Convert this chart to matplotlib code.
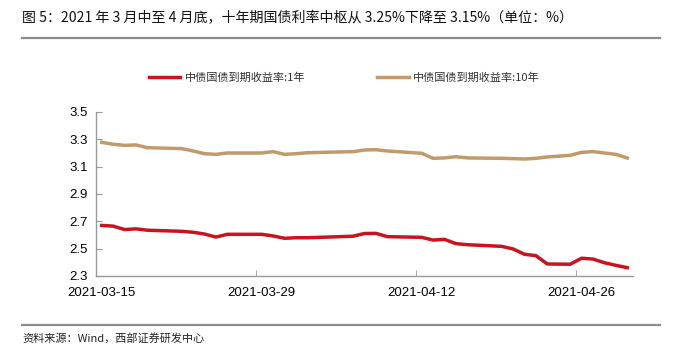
import matplotlib
matplotlib.use('Agg')
import matplotlib.pyplot as plt
import pandas as pd
from datetime import timedelta

plt.rcParams['font.family'] = ['Liberation Sans', 'Noto Sans CJK SC', 'DejaVu Sans']
cjk = ['Noto Sans CJK SC', 'DejaVu Sans']

# 交易日
dates = pd.to_datetime([
    '2021-03-15', '2021-03-16', '2021-03-17', '2021-03-18', '2021-03-19',
    '2021-03-22', '2021-03-23', '2021-03-24', '2021-03-25', '2021-03-26',
    '2021-03-29', '2021-03-30', '2021-03-31', '2021-04-01', '2021-04-02',
    '2021-04-06', '2021-04-07', '2021-04-08', '2021-04-09',
    '2021-04-12', '2021-04-13', '2021-04-14', '2021-04-15', '2021-04-16',
    '2021-04-19', '2021-04-20', '2021-04-21', '2021-04-22', '2021-04-23',
    '2021-04-25', '2021-04-26', '2021-04-27', '2021-04-28', '2021-04-29',
    '2021-04-30'])

y1 = [2.670, 2.665, 2.640, 2.645, 2.635,
      2.627, 2.620, 2.607, 2.585, 2.605,
      2.605, 2.593, 2.576, 2.580, 2.580,
      2.591, 2.611, 2.612, 2.588,
      2.583, 2.563, 2.568, 2.537, 2.529,
      2.517, 2.498, 2.459, 2.449, 2.388,
      2.386, 2.430, 2.424, 2.397, 2.378,
      2.361]

y10 = [3.278, 3.264, 3.256, 3.259, 3.239,
       3.232, 3.215, 3.195, 3.190, 3.200,
       3.200, 3.210, 3.190, 3.195, 3.202,
       3.210, 3.222, 3.224, 3.215,
       3.198, 3.161, 3.164, 3.173, 3.164,
       3.161, 3.159, 3.156, 3.161, 3.171,
       3.183, 3.205, 3.210, 3.200, 3.190,
       3.163]

tick_dates = pd.to_datetime(['2021-03-15', '2021-03-29', '2021-04-12', '2021-04-26'])
yticks = [2.3, 2.5, 2.7, 2.9, 3.1, 3.3, 3.5]

title = '图 5：2021 年 3 月中至 4 月底，十年期国债利率中枢从 3.25%下降至 3.15%（单位：%）'
source = '资料来源：Wind，西部证券研发中心'
labels = ['中债国债到期收益率:1年', '中债国债到期收益率:10年']
colors = ['#C8141E', '#C09A6B']

fig = plt.figure(figsize=(6.82, 3.6), dpi=100)

# 标题和分隔线
fig.text(22/682, 1-18/360, title, fontsize=10.1, family=cjk, va='center', ha='left', color='#111111')
fig.add_artist(plt.Line2D([22/682, 660/682], [1-38/360, 1-38/360], color='#8c8c8c', lw=1.6))
fig.add_artist(plt.Line2D([22/682, 660/682], [1-325/360, 1-325/360], color='#8c8c8c', lw=1.6))
fig.text(22/682, 1-338/360, source, fontsize=8, family=cjk, va='center', ha='left', color='#222222')

ax = fig.add_axes([96/682, 1-276/360, (633-96)/682, (276-112)/360])
ax.plot(dates, y1, color=colors[0], lw=2.5, label=labels[0], solid_joinstyle='round')
ax.plot(dates, y10, color=colors[1], lw=2.5, label=labels[1], solid_joinstyle='round')

half = timedelta(hours=12)
ax.set_xlim(dates[0] - half, dates[-1] + half)
ax.set_ylim(2.3, 3.5)
ax.set_yticks(yticks)
ax.set_yticklabels(['%.1f' % v for v in yticks])

# 标签居中在日期上，刻度线在日期边界
ax.set_xticks(tick_dates)
ax.set_xticklabels([d.strftime('%Y-%m-%d') for d in tick_dates])
ax.set_xticks([d - half for d in tick_dates], minor=True)
ax.tick_params(axis='x', which='major', length=0, pad=8, labelsize=9.5)
ax.tick_params(axis='x', which='minor', length=4, direction='in', color='#999999')
ax.tick_params(axis='y', length=4, direction='in', color='#999999', pad=6, labelsize=9.5)

for s in ['top', 'right']:
    ax.spines[s].set_visible(False)
for s in ['left', 'bottom']:
    ax.spines[s].set_color('#999999')
    ax.spines[s].set_linewidth(1.0)

leg = fig.legend(loc='center', bbox_to_anchor=(0.505, 1-78/360), ncol=2, frameon=False,
                 prop={'family': cjk, 'size': 8}, handlelength=2.8, columnspacing=6.5,
                 handletextpad=0.4)
for t in leg.get_texts():
    t.set_color('#333333')

fig.savefig('out.png', dpi=100)
